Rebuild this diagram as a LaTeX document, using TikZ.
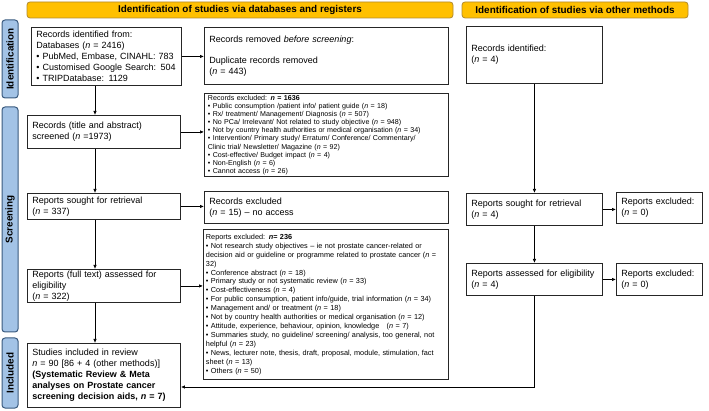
\documentclass[tikz,border=0pt]{standalone}
\usepackage{fontspec}
\setmainfont{Liberation Sans}
\usepackage{tikz}
\usetikzlibrary{arrows.meta}
\definecolor{hdrfill}{HTML}{FFC000}
\definecolor{hdrline}{HTML}{B08A2E}
\definecolor{sidefill}{HTML}{A3C3E6}
\definecolor{sideline}{HTML}{3A5A7E}
\tikzset{
  hdr/.style={draw=hdrline,fill=hdrfill,rounded corners=3pt,line width=0.8pt,font=\fontsize{9.9}{11}\selectfont\bfseries},
  side/.style={draw=sideline,fill=sidefill,rounded corners=3pt,line width=1pt,rotate=90,font=\fontsize{9.9}{11}\selectfont\bfseries},
  bx/.style={draw=black!85,line width=0.9pt,anchor=north west,inner xsep=5pt,inner ysep=1pt,align=left,font=\fontsize{9}{11}\selectfont},
  sm/.style={font=\fontsize{7.1}{8.15}\selectfont,inner ysep=0pt},
  smw/.style={font=\fontsize{7.3}{8.95}\selectfont,inner ysep=0pt},
  arr/.style={line width=0.7pt,-{Latex[length=4pt,width=3.4pt]}}
}
\newcommand{\nn}{\textit{n}}

\begin{document}
\begin{tikzpicture}[x=1pt,y=-1pt]
\useasboundingbox (0,0) rectangle (709,411);
% headers and phases
\node[hdr,minimum width=426,minimum height=16] (hdb) at (240,10) {Identification of studies via databases and registers};
\node[hdr,minimum width=226,minimum height=16] (hot) at (575,10) {Identification of studies via other methods};
\node[side,minimum width=78,minimum height=16] (pid) at (10,59) {Identification};
\node[side,minimum width=225,minimum height=16] (psc) at (10,219.5) {Screening};
\node[side,minimum width=70,minimum height=16] (pin) at (10,373) {Included};

% databases and registers
\node[bx,minimum width=150,minimum height=58,text width=140] (idb) at (31,27)
  {Records identified from:\\ Databases (\nn{} = 2416)\\ \textbullet{} PubMed, Embase, CINAHL: 783\\ \textbullet{} Customised Google Search: 504\\ \textbullet{} TRIPDatabase: 1129};
\node[bx,minimum width=244,minimum height=57,text width=234] (rem) at (204,27)
  {Records removed \textit{before screening}:\\[10pt] Duplicate records removed\\ (\nn{} = 443)};
\node[bx,minimum width=153,minimum height=33,text width=143] (scr) at (27,115)
  {Records (title and abstract)\\ screened (\nn{} =1973)};
\node[bx,sm,minimum width=244,minimum height=83,text width=237,inner xsep=3.5pt] (ex1) at (204,93)
  {Records excluded: \textbf{\nn{} = 1636}\\
   \textbullet{} Public consumption /patient info/ patient guide (\nn{} = 18)\\
   \textbullet{} Rx/ treatment/ Management/ Diagnosis (\nn{} = 507)\\
   \textbullet{} No PCa/ Irrelevant/ Not related to study objective (\nn{} = 948)\\
   \textbullet{} Not by country health authorities or medical organisation (\nn{} = 34)\\
   \textbullet{} Intervention/ Primary study/ Erratum/ Conference/ Commentary/\\
   Clinic trial/ Newsletter/ Magazine (\nn{} = 92)\\
   \textbullet{} Cost-effective/ Budget impact (\nn{} = 4)\\
   \textbullet{} Non-English (\nn{} = 6)\\
   \textbullet{} Cannot access (\nn{} = 26)};
\node[bx,minimum width=153,minimum height=26,text width=143] (sgt) at (27,193)
  {Reports sought for retrieval\\ (\nn{} = 337)};
\node[bx,minimum width=244,minimum height=32,text width=234] (ex2) at (204,191)
  {Records excluded\\ (\nn{} = 15) -- no access};
\node[bx,minimum width=153,minimum height=33,text width=143] (ful) at (27,269)
  {Reports (full text) assessed for\\ eligibility\\ (\nn{} = 322)};
\node[bx,smw,minimum width=245,minimum height=150,text width=240,inner xsep=2.5pt] (ex3) at (203,229)
  {Reports excluded: \textbf{\nn{}= 236}\\
   \textbullet{} Not research study objectives -- ie not prostate cancer-related or\\
   decision aid or guideline or programme related to prostate cancer (\nn{} =\\
   32)\\
   \textbullet{} Conference abstract (\nn{} = 18)\\
   \textbullet{} Primary study or not systematic review (\nn{} = 33)\\
   \textbullet{} Cost-effectiveness (\nn{} = 4)\\
   \textbullet{} For public consumption, patient info/guide, trial information (\nn{} = 34)\\
   \textbullet{} Management and/ or treatment (\nn{} = 18)\\
   \textbullet{} Not by country health authorities or medical organisation (\nn{} = 12)\\
   \textbullet{} Attitude, experience, behaviour, opinion, knowledge\quad (\nn{} = 7)\\
   \textbullet{} Summaries study, no guideline/ screening/ analysis, too general, not\\
   helpful (\nn{} = 23)\\
   \textbullet{} News, lecturer note, thesis, draft, proposal, module, stimulation, fact\\
   sheet (\nn{} = 13)\\
   \textbullet{} Others (\nn{} = 50)};
\node[bx,minimum width=153,minimum height=64,text width=143] (inc) at (27,343)
  {Studies included in review\\ \nn{} = 90 [86 + 4 (other methods)]\\
   \textbf{(Systematic Review \& Meta}\\ \textbf{analyses on Prostate cancer}\\
   \textbf{screening decision aids, \nn{} = 7)}};

% other methods
\node[bx,minimum width=136,minimum height=57,text width=126] (oid) at (466,26)
  {Records identified:\\ (\nn{} = 4)};
\node[bx,minimum width=136,minimum height=32,text width=126] (osg) at (466,193)
  {Reports sought for retrieval\\ (\nn{} = 4)};
\node[bx,minimum width=86,minimum height=31,text width=76] (oe1) at (616,192)
  {Reports excluded:\\ (\nn{} = 0)};
\node[bx,minimum width=136,minimum height=32,text width=126] (oas) at (466,263)
  {Reports assessed for eligibility\\ (\nn{} = 4)};
\node[bx,minimum width=86,minimum height=32,text width=76] (oe2) at (616,263)
  {Reports excluded:\\ (\nn{} = 0)};

% connectors
\coordinate (vx) at (95,0);
\coordinate (bend) at (0,387);
\draw[arr] (idb.east) -- (idb.east -| rem.west);
\draw[arr] (idb.south -| vx) -- (scr.north -| vx);
\draw[arr] (scr.south -| vx) -- (sgt.north -| vx);
\draw[arr] (sgt.south -| vx) -- (ful.north -| vx);
\draw[arr] (ful.south -| vx) -- (inc.north -| vx);
\draw[arr] (scr.east) -- (scr.east -| ex1.west);
\draw[arr] (sgt.east) -- (sgt.east -| ex2.west);
\draw[arr] (ful.east) -- (ful.east -| ex3.west);
\draw[arr] (oid.south) -- (osg.north);
\draw[arr] (osg.east) -- (osg.east -| oe1.west);
\draw[arr] (osg.south) -- (oas.north);
\draw[arr] (oas.east) -- (oas.east -| oe2.west);
\draw[arr] (oas.south) |- (inc.east |- bend);
\end{tikzpicture}
\end{document}
